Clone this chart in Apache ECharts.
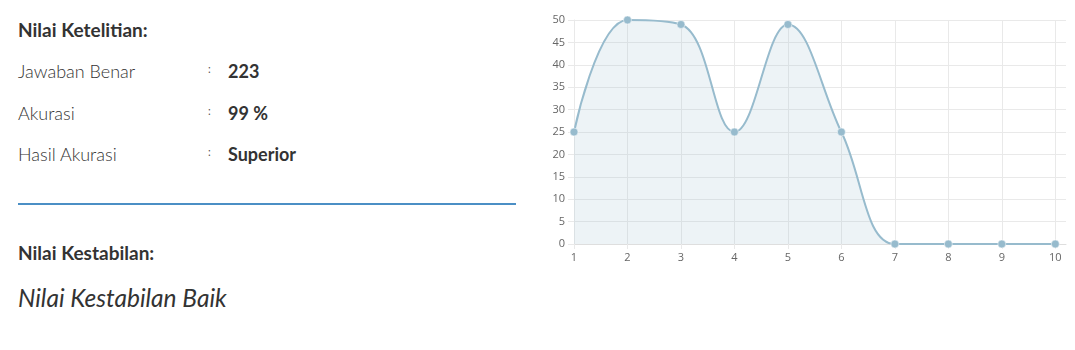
<!DOCTYPE html>
<html>
<head>
<meta charset="utf-8">
<script src="https://cdn.jsdelivr.net/npm/echarts@6/dist/echarts.min.js"></script>
<style>
  html, body { margin: 0; padding: 0; background: #fff; }
  body { width: 1075px; height: 350px; position: relative; overflow: hidden; font-family: Lato, "Noto Sans", sans-serif; color: #333; }
  .t { position: absolute; white-space: nowrap; }
  .h { font-weight: bold; font-size: 19px; color: #333; }
  .lbl { font-size: 18px; font-weight: 300; color: #333; }
  .col { font-size: 11px; color: #555; }
  .val { font-size: 18px; font-weight: bold; color: #333; }
  .rule { position: absolute; left: 18px; top: 203px; width: 498px; height: 2px; background: #4b8fc5; }
  .it { font-size: 24.5px; font-style: italic; color: #333; }
  #chart { position: absolute; left: 530px; top: 0; width: 545px; height: 350px; }
</style>
</head>
<body>
<div class="t h" style="left:18px; top:18px;">Nilai Ketelitian:</div>

<div class="t lbl" style="left:18px; top:60px;">Jawaban Benar</div>
<div class="t col" style="left:208px; top:62px;">:</div>
<div class="t val" style="left:228px; top:60px;">223</div>

<div class="t lbl" style="left:18px; top:102px;">Akurasi</div>
<div class="t col" style="left:208px; top:104px;">:</div>
<div class="t val" style="left:228px; top:102px;">99 %</div>

<div class="t lbl" style="left:18px; top:143px;">Hasil Akurasi</div>
<div class="t col" style="left:208px; top:145px;">:</div>
<div class="t val" style="left:228px; top:143px;">Superior</div>

<div class="rule"></div>

<div class="t h" style="left:18px; top:241px;">Nilai Kestabilan:</div>
<div class="t it" style="left:18px; top:283px;">Nilai Kestabilan Baik</div>

<div id="chart"></div>
<script>
const categories = [1, 2, 3, 4, 5, 6, 7, 8, 9, 10];
const values = [25, 50, 49, 25, 49, 25, 0, 0, 0, 0];
const yTicks = [0, 5, 10, 15, 20, 25, 30, 35, 40, 45, 50];

const points = categories.map((c, i) => [c, values[i]]);
const grid = '#e9e9e9';
const xSplitColors = categories.map(() => grid).concat(['rgba(0,0,0,0)']);

const chart = echarts.init(document.getElementById('chart'), null, { renderer: 'canvas' });
chart.setOption({
  animation: false,
  grid: { left: 44, right: 9, top: 20, bottom: 106, containLabel: false },
  xAxis: {
    type: 'value',
    min: 1,
    max: 10.2,
    interval: 1,
    axisLine: { show: true, lineStyle: { color: '#dedede', width: 1 } },
    axisTick: { show: true, length: 5, lineStyle: { color: grid } },
    splitLine: { show: true, lineStyle: { color: xSplitColors, width: 1 } },
    axisLabel: { color: '#666', fontSize: 11, margin: 8, showMaxLabel: false, fontFamily: 'Open Sans, sans-serif',
      formatter: v => (Number.isInteger(v) ? String(v) : '') }
  },
  yAxis: {
    type: 'value',
    min: yTicks[0],
    max: yTicks[yTicks.length - 1],
    interval: yTicks[1] - yTicks[0],
    axisLine: { show: true, lineStyle: { color: grid, width: 1 } },
    axisTick: { show: true, length: 6, lineStyle: { color: grid } },
    splitLine: { show: true, lineStyle: { color: grid, width: 1 } },
    axisLabel: { color: '#666', fontSize: 11, margin: 9, fontFamily: 'Open Sans, sans-serif' }
  },
  series: [{
    type: 'line',
    data: points,
    smooth: 0.4,
    symbol: 'circle',
    symbolSize: 8,
    lineStyle: { color: 'rgba(151,187,205,1)', width: 2 },
    itemStyle: { color: 'rgba(151,187,205,1)', borderColor: '#fff', borderWidth: 0.5 },
    areaStyle: { color: 'rgba(151,187,205,0.25)' }
  }]
});
</script>
</body>
</html>
